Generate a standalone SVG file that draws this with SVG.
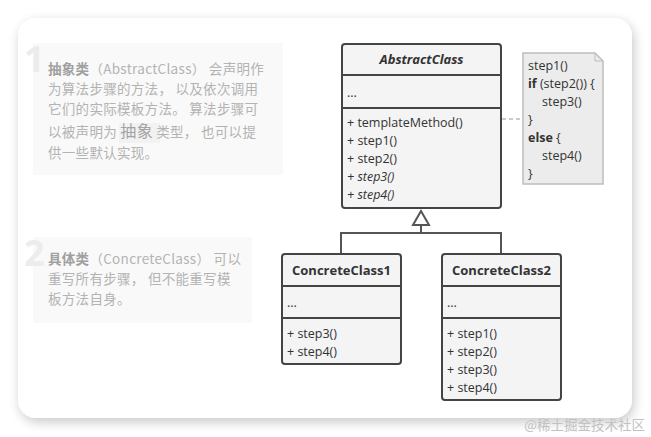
<svg xmlns="http://www.w3.org/2000/svg" width="651" height="437" viewBox="0 0 651 437">
<defs>
<filter id="sh" x="-10%" y="-10%" width="120%" height="125%">
<feGaussianBlur in="SourceAlpha" stdDeviation="6"/>
<feOffset dx="2" dy="4" result="b"/>
<feComponentTransfer><feFuncA type="linear" slope="0.22"/></feComponentTransfer>
<feMerge><feMergeNode/><feMergeNode in="SourceGraphic"/></feMerge>
</filter>
<style>
.cn{font-family:"Noto Sans CJK SC","Open Sans",sans-serif;font-size:13.5px;fill:#b3b3b3;letter-spacing:0.3px}
.cnb{font-weight:bold;fill:#a0a0a0}
.num{font-family:"Open Sans","Liberation Sans",sans-serif;font-size:36px;font-weight:bold;fill:#ececec}
.tb{fill:#f9f9f9}
.box{fill:#f4f4f4;stroke:#444;stroke-width:2}
.sep{stroke:#444;stroke-width:2}
.t{font-family:"Open Sans","Liberation Sans",sans-serif;font-size:12.5px;fill:#333}
.title{font-family:"Open Sans","Liberation Sans",sans-serif;font-size:13px;font-weight:bold;fill:#333}
.note{font-family:"Open Sans","Liberation Sans",sans-serif;font-size:12.5px;fill:#333}
.line{stroke:#555;stroke-width:2;fill:none}
</style>
</defs>
<rect width="651" height="437" fill="#ffffff"/>
<rect x="18" y="18" width="614" height="400" rx="18" fill="#ffffff" filter="url(#sh)"/>

<g id="text1">
<rect class="tb" x="33" y="43" width="250" height="132"/>
<text class="num" x="24" y="72">1</text>
<text class="cn" x="48" y="74"><tspan class="cnb">抽象类</tspan>（AbstractClass） 会声明作</text>
<text class="cn" x="48" y="94">为算法步骤的方法， 以及依次调用</text>
<text class="cn" x="48" y="114">它们的实际模板方法。 算法步骤可</text>
<rect x="119" y="123" width="41" height="20" fill="#f2f2f2"/>
<text class="cn" x="48" y="137">以被声明为 <tspan style="font-size:16px;fill:#a3a3a3">抽象</tspan> 类型， 也可以提</text>
<text class="cn" x="48" y="158">供一些默认实现。</text>
</g>

<g id="text2">
<rect class="tb" x="33" y="237" width="219" height="86"/>
<text class="num" x="24" y="266">2</text>
<text class="cn" x="48" y="264"><tspan class="cnb">具体类</tspan>（ConcreteClass） 可以</text>
<text class="cn" x="48" y="284">重写所有步骤， 但不能重写模</text>
<text class="cn" x="48" y="304">板方法自身。</text>
</g>

<g id="connectors">
<line x1="502" y1="119" x2="523" y2="119" stroke="#bbb" stroke-width="1.5" stroke-dasharray="4,3"/>
<polyline class="line" points="341,254 341,233 501,233 501,254"/>
<line class="line" x1="421" y1="225" x2="421" y2="233"/>
<polygon points="421,211 413,225 429,225" fill="#fff" stroke="#555" stroke-width="2" stroke-linejoin="miter"/>
</g>

<g id="AbstractClass">
<rect class="box" x="342" y="44" width="159" height="164" rx="3"/>
<line class="sep" x1="342" y1="75" x2="501" y2="75"/>
<line class="sep" x1="342" y1="108" x2="501" y2="108"/>
<text class="title" x="421.5" y="64" text-anchor="middle" font-style="italic">AbstractClass</text>
<text class="t" x="347" y="97">...</text>
<text class="t" x="347" y="127">+ templateMethod()</text>
<text class="t" x="347" y="145">+ step1()</text>
<text class="t" x="347" y="163">+ step2()</text>
<text class="t" x="347" y="181" font-style="italic">+ step3()</text>
<text class="t" x="347" y="199" font-style="italic">+ step4()</text>
</g>

<g id="note">
<path d="M523,53 H595 L603,61 V184 H523 Z" fill="#ececec" stroke="#bdbdbd" stroke-width="1.5"/>
<path d="M595,53 V61 H603" fill="none" stroke="#bdbdbd" stroke-width="1"/>
<text class="note" x="528" y="70">step1()</text>
<text class="note" x="528" y="88"><tspan font-weight="bold">if</tspan> (step2()) {</text>
<text class="note" x="542" y="106">step3()</text>
<text class="note" x="528" y="124">}</text>
<text class="note" x="528" y="142"><tspan font-weight="bold">else</tspan> {</text>
<text class="note" x="542" y="160">step4()</text>
<text class="note" x="528" y="178">}</text>
</g>

<g id="ConcreteClass1">
<rect class="box" x="282" y="254" width="119" height="110" rx="3"/>
<line class="sep" x1="282" y1="286" x2="401" y2="286"/>
<line class="sep" x1="282" y1="318" x2="401" y2="318"/>
<text class="title" x="341.5" y="275" text-anchor="middle">ConcreteClass1</text>
<text class="t" x="287" y="307">...</text>
<text class="t" x="287" y="338">+ step3()</text>
<text class="t" x="287" y="356">+ step4()</text>
</g>

<g id="ConcreteClass2">
<rect class="box" x="442" y="254" width="119" height="146" rx="3"/>
<line class="sep" x1="442" y1="286" x2="561" y2="286"/>
<line class="sep" x1="442" y1="318" x2="561" y2="318"/>
<text class="title" x="501.5" y="275" text-anchor="middle">ConcreteClass2</text>
<text class="t" x="447" y="307">...</text>
<text class="t" x="447" y="338">+ step1()</text>
<text class="t" x="447" y="356">+ step2()</text>
<text class="t" x="447" y="374">+ step3()</text>
<text class="t" x="447" y="392">+ step4()</text>
</g>

<text x="645" y="430" text-anchor="end" font-family="'Noto Sans CJK SC',sans-serif" font-size="13.5" fill="#c2c2c2">@稀土掘金技术社区</text>
</svg>
